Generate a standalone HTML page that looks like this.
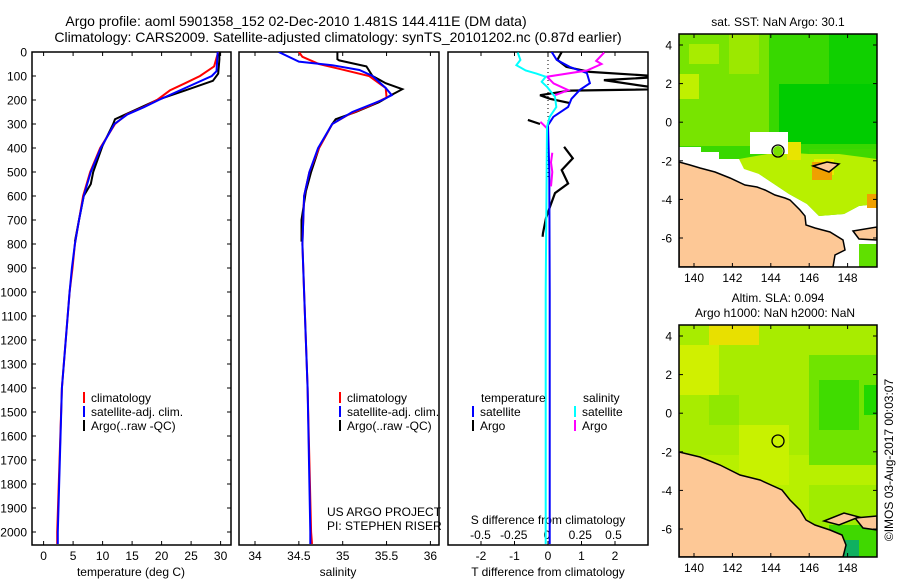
<!DOCTYPE html>
<html><head><meta charset="utf-8"><style>
body{margin:0;background:#fff}
svg{font-family:"Liberation Sans",sans-serif;display:block}
text{fill:#000}
</style></head><body>
<svg id="fig" width="900" height="580" viewBox="0 0 900 580">
<text x="296" y="26" font-size="14" text-anchor="middle">Argo profile: aoml 5901358_152 02-Dec-2010 1.481S 144.411E (DM data)</text>
<text x="338" y="42" font-size="14" text-anchor="middle">Climatology: CARS2009. Satellite-adjusted climatology: synTS_20101202.nc (0.87d earlier)</text>

<!-- maps -->
<g>
<text x="778" y="26" font-size="12" text-anchor="middle">sat. SST: NaN Argo: 30.1</text>
<svg x="679" y="34" width="198" height="233" overflow="hidden">
<rect x="0" y="0" width="198" height="233" fill="#fff"/>
<polygon fill="#38d800" points="0,0 198,0 198,170 180,172 165,180 140,182 128,170 110,160 95,150 80,140 72,130 70,125 40,125 40,118 22,118 22,113 0,113"/>
<rect x="0" y="0" width="90" height="112" fill="#78e400"/>
<rect x="10" y="10" width="30" height="20" fill="#a8ec00"/>
<rect x="0" y="40" width="20" height="25" fill="#c0f000"/>
<rect x="50" y="0" width="30" height="40" fill="#9ce800"/>
<rect x="150" y="0" width="48" height="60" fill="#10d000"/>
<rect x="100" y="50" width="98" height="60" fill="#00cc00"/>
<rect x="130" y="115" width="68" height="45" fill="#40d800"/>
<polygon fill="#b8f000" points="60,125 100,118 130,120 160,120 198,125 198,170 180,172 165,180 140,182 128,170 110,160 95,150 80,140 65,135"/>
<rect x="135" y="125" width="20" height="16" fill="#e8ec00"/>
<rect x="108" y="108" width="14" height="18" fill="#e8e400"/>
<rect x="133" y="128" width="20" height="18" fill="#f0a000"/>
<rect x="188" y="160" width="10" height="14" fill="#f0a000"/>
<rect x="71" y="98" width="38" height="22" fill="#fff"/>
<circle cx="99" cy="117" r="5" fill="#78e000"/>
<rect x="180" y="210" width="18" height="23" fill="#60e000"/>
<polygon fill="#fdc896" stroke="#000" stroke-width="1.5" points="0,128 11,131 21,134 36,138 51,144 66,151 78,153 86,156 96,161 106,164 111,166 121,176 126,182 127,191 136,194 151,198 164,206 166,216 156,221 154,233 0,233"/>
<polygon fill="#fdc896" stroke="#000" stroke-width="1.5" points="174,197 198,193 198,206 180,205"/>
<polygon fill="#fdc896" stroke="#000" stroke-width="1.5" points="134,132 148,128 160,130 150,138"/>
<circle cx="99" cy="117" r="6" fill="none" stroke="#000" stroke-width="1.3"/>
</svg>
<rect x="679" y="34" width="198" height="233" fill="none" stroke="#000" stroke-width="1.5"/>
</g>
<g>
<text x="778" y="302" font-size="12" text-anchor="middle">Altim. SLA: 0.094</text>
<text x="775" y="317" font-size="12" text-anchor="middle">Argo h1000: NaN h2000: NaN</text>
<svg x="679" y="325" width="198" height="232" overflow="hidden">
<rect width="198" height="232" fill="#b8f000"/>
<rect x="0" y="0" width="198" height="130" fill="#a8ec00"/>
<rect x="30" y="0" width="50" height="20" fill="#e8e000"/>
<rect x="0" y="20" width="40" height="50" fill="#d0f000"/>
<rect x="130" y="30" width="68" height="110" fill="#70e400"/>
<rect x="140" y="55" width="40" height="50" fill="#40dc00"/>
<rect x="185" y="60" width="13" height="30" fill="#20d800"/>
<rect x="30" y="70" width="30" height="30" fill="#90e800"/>
<rect x="60" y="100" width="50" height="60" fill="#c8f200"/>
<rect x="130" y="160" width="68" height="72" fill="#a0ec00"/>
<rect x="150" y="200" width="48" height="32" fill="#40d800"/>
<rect x="150" y="215" width="30" height="17" fill="#10b060"/>
<polygon fill="#fdc896" stroke="#000" stroke-width="1.5" points="0,127 21,132 41,140 61,150 81,155 103,165 111,175 121,185 127,195 136,200 151,205 163,210 167,220 164,232 0,232"/>
<polygon fill="#fdc896" stroke="#000" stroke-width="1.5" points="176,193 198,191 198,205 184,203"/>
<polygon fill="#fdc896" stroke="#000" stroke-width="1.5" points="145,196 165,188 180,192 160,200"/>
<circle cx="99" cy="116" r="6" fill="none" stroke="#000" stroke-width="1.3"/>
</svg>
<rect x="679" y="325" width="198" height="232" fill="none" stroke="#000" stroke-width="1.5"/>
</g>
<text transform="translate(893,460) rotate(-90)" font-size="12" text-anchor="middle">©IMOS 03-Aug-2017 00:03:07</text>

<g id="profiles"></g>
</svg>
<script>
// ---- data ----
const depthTicks=[0,100,200,300,400,500,600,700,800,900,1000,1100,1200,1300,1400,1500,1600,1700,1800,1900,2000];
const tempTicks=[0,5,10,15,20,25,30];
const salTicks=[34,34.5,35,35.5,36];
const tdTicks=[-2,-1,0,1,2];
const sdTicks=[-0.5,-0.25,0,0.25,0.5];
const sdTickLabels=["-0.5","-0.25","0","0.25","0.5"];

const tClimDepth=[0,60,100,130,160,200,230,260,300,400,500,600,700,800,900,1000,1400,2000,2050];
const tClim=[29.6,28.9,26.5,24,21.4,19.2,16.9,14.1,12.1,9.6,7.9,6.7,6.0,5.3,4.9,4.4,3.1,2.3,2.3];
const tSatDepth=[0,80,100,150,200,230,260,300,400,500,600,700,800,900,1000,1400,2000,2050];
const tSat=[29.5,29.3,28.5,24,19.5,17,14.2,12.0,9.7,8.0,6.8,6.0,5.3,4.8,4.4,3.1,2.4,2.4];
const tArgoDepth=[0,30,90,120,160,200,280,300,390,500,550,600,700,790];
const tArgo=[29.8,29.8,29.6,28.7,24,19.2,12.1,11.8,10.0,8.4,8.0,6.8,6.0,5.3];

const sClimDepth=[0,20,50,70,100,150,190,220,260,300,400,500,600,800,1000,1400,2000,2050];
const sClim=[34.5,34.54,34.73,34.96,35.30,35.49,35.5,35.33,35.07,34.88,34.73,34.62,34.56,34.54,34.56,34.60,34.64,34.65];
const sSatDepth=[0,40,55,75,100,150,180,200,250,300,400,500,600,800,1000,1400,2000,2050];
const sSat=[34.27,34.5,34.88,35.19,35.34,35.49,35.56,35.45,35.11,34.88,34.72,34.62,34.56,34.54,34.56,34.60,34.63,34.63];
const sArgoDepth=[0,30,35,60,100,130,155,180,210,250,280,300,400,500,580,700,790];
const sArgo=[34.94,34.94,34.96,35.27,35.34,35.49,35.68,35.55,35.41,35.15,34.92,34.88,34.73,34.64,34.58,34.53,34.53];

const dTArgoDepth=[0,33,62,83,103,117,155,161,180,195,213,null,283,300,null,395,443,492,548,588,645,692,754,770];
const dTArgo=[0.41,0.28,0.55,1.25,3.5,1.67,3.5,0.65,-0.24,0.06,0.65,null,-0.6,-0.24,null,0.48,0.74,0.41,0.6,0.21,0.06,-0.06,-0.15,-0.16];
const dTSatDepth=[0,33,62,88,130,158,195,229,270,305,500,1000,1500,2050];
const dTSat=[0.11,0.26,0.65,1.16,1.25,0.95,0.7,0.6,0.16,0.0,0.04,0.05,0.05,0.05];
const dSArgoDepth=[2,37,50,77,103,131,159,180,null,291,318,null,420,460,500,560];
const dSArgo=[0.43,0.37,0.41,0.30,0.0,0.05,0.16,0.06,null,-0.05,0.0,null,0.04,0.03,0.04,0.03];
const dSSatDepth=[2,33,55,77,90,103,124,145,187,229,270,312,1000,2050];
const dSSat=[-0.22,-0.2,-0.23,-0.16,-0.08,-0.01,-0.04,0.0,0.06,0.07,0.02,0.0,-0.01,-0.01];

// ---- geometry ----
const TOP=52,BOT=545;
const yD=d=>TOP+d*0.24;
const xT=t=>43.6+t*5.9;
const xS=s=>255+(s-34)*87.7;
const xTD=v=>548+v*33.5;
const xSD=v=>547+v*133;
const NS="http://www.w3.org/2000/svg";
const root=document.getElementById('profiles');
function el(tag,attrs,parent){const e=document.createElementNS(NS,tag);for(const k in attrs)e.setAttribute(k,attrs[k]);(parent||root).appendChild(e);return e;}
function txt(x,y,s,size,anchor,parent){const t=el('text',{x:x,y:y,'font-size':size,'text-anchor':anchor||'middle'},parent);t.textContent=s;return t;}

const panels=[{x:32,w:199,name:'temperature-panel'},{x:239,w:200,name:'salinity-panel'},{x:448,w:200,name:'difference-panel'}];
panels.forEach((p,i)=>{
  const g=el('g',{});
  
  
  const cp=el('clipPath',{id:'clip'+i},g);el('rect',{x:p.x,y:TOP,width:p.w,height:BOT-TOP},cp);
  el('rect',{x:p.x,y:TOP,width:p.w,height:BOT-TOP,fill:'none',stroke:'#000','stroke-width':1.5},g);
  p.g=g;
});
function line(g,ds,vs,xf,color,w,ci,name){
  let d='',pen=false;
  for(let i=0;i<ds.length;i++){
    if(ds[i]===null||vs[i]===null){pen=false;continue;}
    d+=(pen?'L':'M')+xf(vs[i]).toFixed(1)+','+yD(ds[i]).toFixed(1);pen=true;
  }
  const p=el('path',{d:d,fill:'none',stroke:color,'stroke-width':w,'clip-path':'url(#clip'+ci+')'},g);
  
  
}
const g0=panels[0].g;
depthTicks.forEach(d=>{
  el('line',{x1:32,x2:36,y1:yD(d),y2:yD(d),stroke:'#000'},g0);
  el('line',{x1:227,x2:231,y1:yD(d),y2:yD(d),stroke:'#000'},g0);
  const t=txt(27,yD(d)+4.5,String(d),12,'end',g0);
  
  
});
function xticks(g,ticks,labels,xf,y,tickTop){
  ticks.forEach((v,i)=>{
    const x=xf(v);
    if(tickTop){el('line',{x1:x,x2:x,y1:TOP,y2:TOP+4,stroke:'#000'},g);el('line',{x1:x,x2:x,y1:BOT-4,y2:BOT,stroke:'#000'},g);}
    const t=txt(x,y,labels[i],12,'middle',g);
    
    
  });
}
xticks(g0,tempTicks,tempTicks.map(String),xT,560,true);
xticks(panels[1].g,salTicks,salTicks.map(String),xS,560,true);
xticks(panels[2].g,tdTicks,tdTicks.map(String),xTD,560,true);
xticks(panels[2].g,sdTicks,sdTickLabels,xSD,539,false);
[[131,'temperature (deg C)',0,'temperature-axis-title'],[338,'salinity',1,'salinity-axis-title'],[548,'T difference from climatology',2,'t-diff-axis-title']].forEach(a=>{
  const t=txt(a[0],576,a[1],12,'middle',panels[a[2]].g);
  
  
});
const sdt=txt(548,524,'S difference from climatology',12,'middle',panels[2].g);


el('line',{x1:548,x2:548,y1:TOP,y2:180,stroke:'#000','stroke-dasharray':'1,3'},panels[2].g);

line(g0,tArgoDepth,tArgo,xT,'#000',2,0,'temp-argo-line');
line(g0,tClimDepth,tClim,xT,'#f00',2,0,'temp-climatology-line');
line(g0,tSatDepth,tSat,xT,'#00f',2,0,'temp-satellite-line');
const g1=panels[1].g;
line(g1,sArgoDepth,sArgo,xS,'#000',2,1,'sal-argo-line');
line(g1,sClimDepth,sClim,xS,'#f00',2,1,'sal-climatology-line');
line(g1,sSatDepth,sSat,xS,'#00f',2,1,'sal-satellite-line');
const g2=panels[2].g;
line(g2,dTArgoDepth,dTArgo,xTD,'#000',2.2,2,'tdiff-argo-line');
line(g2,dTSatDepth,dTSat,xTD,'#00f',2,2,'tdiff-satellite-line');
line(g2,dSArgoDepth,dSArgo,xSD,'#f0f',2,2,'sdiff-argo-line');
line(g2,dSSatDepth,dSSat,xSD,'#0ff',2,2,'sdiff-satellite-line');

function legend(g,x,y,color,label){
  el('rect',{x:x,y:y-10,width:2,height:11,fill:color},g);
  const t=txt(x+8,y,label,12,'start',g);
  
  
}
[[0,83],[1,339]].forEach(a=>{
  const g=panels[a[0]].g;
  legend(g,a[1],402,'#f00','climatology');
  legend(g,a[1],416,'#00f','satellite-adj. clim.');
  legend(g,a[1],430,'#000','Argo(..raw -QC)');
});
txt(481,402,'temperature',12,'start',g2);
txt(583,402,'salinity',12,'start',g2);
legend(g2,472,416,'#00f','satellite');
legend(g2,472,430,'#000','Argo');
legend(g2,574,416,'#0ff','satellite');
legend(g2,574,430,'#f0f','Argo');
const c1=txt(327,516,'US ARGO PROJECT',12,'start',g1);


const c2=txt(327,530,'PI: STEPHEN RISER',12,'start',g1);



function mapTicks(top,bot,lat4y){
  const lons=[140,142,144,146,148];
  lons.forEach(l=>{const x=694+(l-140)*19.2;
    el('line',{x1:x,x2:x,y1:top,y2:top+4,stroke:'#000'});
    el('line',{x1:x,x2:x,y1:bot-4,y2:bot,stroke:'#000'});
    const t=txt(x,bot+15,String(l),12,'middle');
    
    
  });
  [4,2,0,-2,-4,-6].forEach(la=>{const y=lat4y+(4-la)*19.3;
    el('line',{x1:679,x2:683,y1:y,y2:y,stroke:'#000'});
    el('line',{x1:873,x2:877,y1:y,y2:y,stroke:'#000'});
    const t=txt(672,y+4.5,String(la),12,'end');
    
    
  });
}
mapTicks(34,267,45);
mapTicks(325,557,336);
</script>
</body></html>
